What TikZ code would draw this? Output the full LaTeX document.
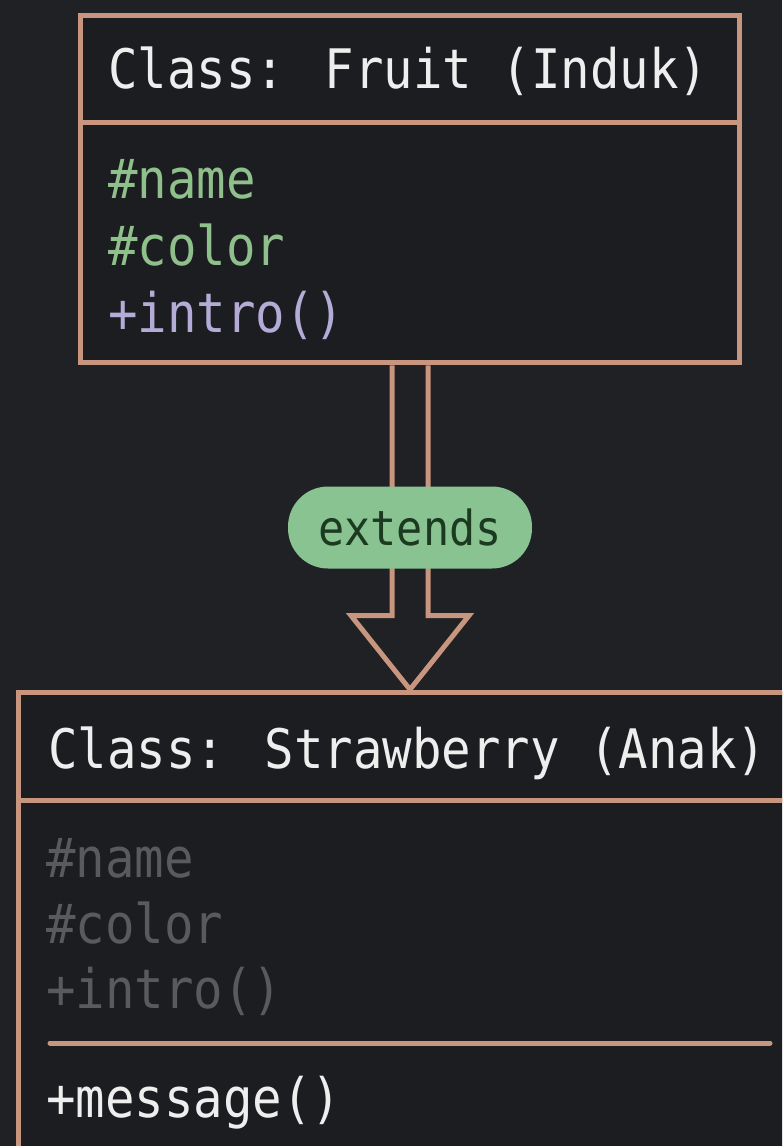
\documentclass[tikz,border=0pt]{standalone}
\usepackage{fontspec}
\usepackage{xcolor}
\usepackage{tikz}
\usetikzlibrary{shapes.geometric, arrows.meta, positioning, calc}

\newfontfamily\codefont[FakeStretch=0.9]{DejaVu Sans Mono}

\definecolor{bgdark}{HTML}{202124}
\definecolor{boxdark}{HTML}{1C1D21}
\definecolor{umlline}{HTML}{C8957F}
\definecolor{headwhite}{HTML}{EEEEEE}
\definecolor{attrgreen}{HTML}{8FC08C}
\definecolor{oppurple}{HTML}{B4ACD6}
\definecolor{fadedgray}{HTML}{5A5A5D}
\definecolor{pillgreen}{HTML}{88C391}
\definecolor{pilltext}{HTML}{1C3A20}

\begin{document}
\begin{tikzpicture}[
    x=0.02cm, y=-0.02cm,
    classbox/.style={rectangle, draw=umlline, line width=0.1cm, fill=boxdark, inner sep=0pt},
    sepline/.style={draw=umlline, line width=0.1cm},
    codetext/.style={anchor=base west, inner sep=0pt, font=\codefont\fontsize{31}{31}\selectfont},
    headtext/.style={codetext, text=headwhite},
    attrtext/.style={codetext, text=attrgreen},
    optext/.style={codetext, text=oppurple},
    inherited/.style={codetext, text=fadedgray},
    pill/.style={rectangle, rounded corners=0.8cm, fill=pillgreen, text=pilltext, minimum width=4.88cm, minimum height=1.64cm, inner sep=0pt, font=\codefont\fontsize{27.5}{27.5}\selectfont},
    hollow/.style={draw=umlline, line width=0.1cm, line join=miter}
]
    \clip (0,0) rectangle (782,1146);
    \fill [bgdark] (0,0) rectangle (782,1146);

    % parent class
    \node (fruit) [classbox, minimum width=13.2cm, minimum height=6.96cm] at (410,189) {};
    \draw [sepline] (fruit.west |- 0,122) -- (fruit.east |- 0,122);
    \node (fruithead) [headtext] at (108,88) {Class: Fruit (Induk)};
    \node (fname) [attrtext] at (108,198) {\#name};
    \node (fcolor) [attrtext] at (108,265) {\#color};
    \node (fintro) [optext] at (108,332) {+intro()};

    % child class
    \node (straw) [classbox, minimum width=15.68cm, minimum height=10.16cm] at (410,946) {};
    \draw [sepline] (straw.west |- 0,800) -- (straw.east |- 0,800);
    \node (strawhead) [headtext] at (48,768) {Class: Strawberry (Anak)};
    \node (sname) [inherited] at (46,877) {\#name};
    \node (scolor) [inherited] at (46,943) {\#color};
    \node (sintro) [inherited] at (46,1008) {+intro()};
    \coordinate (sepL) at (50,1043);
    \coordinate (sepR) at (770,1043);
    \draw [sepline, line cap=round] (sepL) -- (sepR);
    \node (smsg) [headtext] at (46,1117) {+message()};

    % inheritance arrow
    \draw [hollow] ($(fruit.south)+(-18,0)$) |- ($(straw.north)+(-59,-74)$) -- (straw.north)
        -- ($(straw.north)+(59,-74)$) -| ($(fruit.south)+(18,0)$);
    \node (ext) [pill] at ($(fruit.south)!0.5!(straw.north)$) {extends};
\end{tikzpicture}
\end{document}
